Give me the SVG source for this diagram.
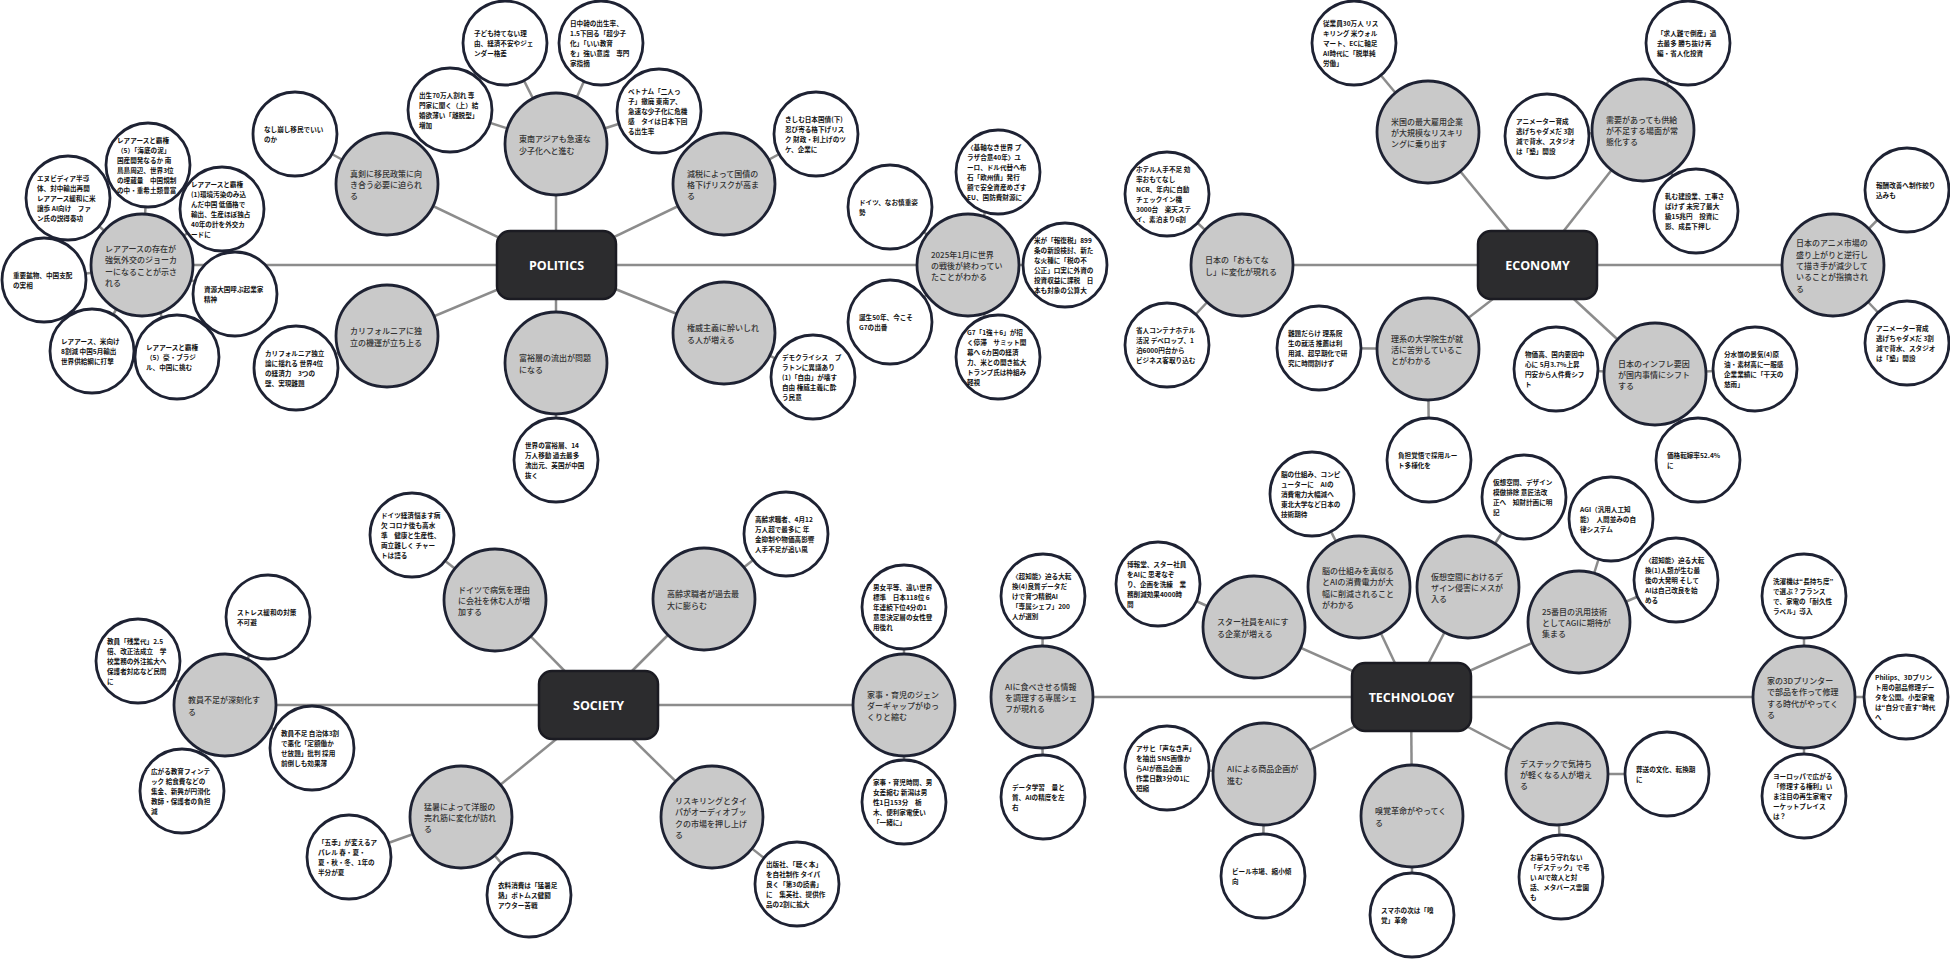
<svg xmlns="http://www.w3.org/2000/svg" width="1950" height="959" viewBox="0 0 1950 959">
<style>
.c line{stroke:#8c8c8c;stroke-width:2.5}
.mn{fill:#c9c9c9;stroke:#1e2233;stroke-width:2.8}
.lf{fill:#fff;stroke:#1e2233;stroke-width:2.8}
.hub{fill:#2c2c2e;stroke:#1b1b22;stroke-width:2.5}
.ht{font-family:"Open Sans","DejaVu Sans",sans-serif;font-weight:700;font-size:12.5px;fill:#fff;text-anchor:middle;dominant-baseline:central}
.mt{font-family:"Noto Sans CJK JP","Noto Sans",sans-serif;font-size:8px;font-weight:500;fill:#333;dominant-baseline:central}
.lt{font-family:"Noto Sans CJK JP","Noto Sans",sans-serif;font-size:6.6px;font-weight:700;fill:#111;dominant-baseline:central}
</style>
<rect width="1950" height="959" fill="#fff"/>
<g id="connectors" class="c">
<!-- POLITICS -->
<line x1="556" y1="265" x2="556" y2="144"/><line x1="556" y1="265" x2="387" y2="184"/><line x1="556" y1="265" x2="724" y2="184"/><line x1="556" y1="265" x2="142" y2="265"/><line x1="556" y1="265" x2="968" y2="265"/><line x1="556" y1="265" x2="387" y2="336"/><line x1="556" y1="265" x2="556" y2="363"/><line x1="556" y1="265" x2="724" y2="333"/>
<line x1="556" y1="144" x2="450" y2="110"/><line x1="556" y1="144" x2="505" y2="43"/><line x1="556" y1="144" x2="601" y2="43"/><line x1="556" y1="144" x2="659" y2="111"/>
<line x1="387" y1="184" x2="295" y2="134"/><line x1="724" y1="184" x2="816" y2="134"/>
<line x1="142" y1="265" x2="148" y2="165"/><line x1="142" y1="265" x2="68" y2="198"/><line x1="142" y1="265" x2="222" y2="209"/><line x1="142" y1="265" x2="44" y2="280"/><line x1="142" y1="265" x2="235" y2="294"/><line x1="142" y1="265" x2="92" y2="351"/><line x1="142" y1="265" x2="177" y2="357"/>
<line x1="968" y1="265" x2="998" y2="172"/><line x1="968" y1="265" x2="890" y2="207"/><line x1="968" y1="265" x2="1065" y2="265"/><line x1="968" y1="265" x2="890" y2="322"/><line x1="968" y1="265" x2="998" y2="357"/>
<line x1="387" y1="336" x2="296" y2="368"/><line x1="556" y1="363" x2="556" y2="460"/><line x1="724" y1="333" x2="813" y2="377"/>
<!-- ECONOMY -->
<line x1="1537" y1="265" x2="1242" y2="265"/><line x1="1537" y1="265" x2="1428" y2="132"/><line x1="1537" y1="265" x2="1643" y2="130"/><line x1="1537" y1="265" x2="1833" y2="265"/><line x1="1537" y1="265" x2="1428" y2="349"/><line x1="1537" y1="265" x2="1655" y2="374"/>
<line x1="1242" y1="265" x2="1167" y2="194"/><line x1="1242" y1="265" x2="1167" y2="345"/><line x1="1428" y1="132" x2="1354" y2="43"/>
<line x1="1643" y1="130" x2="1688" y2="43"/><line x1="1643" y1="130" x2="1547" y2="136"/><line x1="1643" y1="130" x2="1696" y2="211"/>
<line x1="1833" y1="265" x2="1907" y2="190"/><line x1="1833" y1="265" x2="1907" y2="343"/>
<line x1="1428" y1="349" x2="1319" y2="348"/><line x1="1428" y1="349" x2="1429" y2="460"/>
<line x1="1655" y1="374" x2="1556" y2="369"/><line x1="1655" y1="374" x2="1755" y2="369"/><line x1="1655" y1="374" x2="1698" y2="460"/>
<!-- SOCIETY -->
<line x1="598" y1="705" x2="225" y2="705"/><line x1="598" y1="705" x2="495" y2="600"/><line x1="598" y1="705" x2="704" y2="599"/><line x1="598" y1="705" x2="904" y2="705"/><line x1="598" y1="705" x2="461" y2="817"/><line x1="598" y1="705" x2="712" y2="817"/>
<line x1="225" y1="705" x2="268" y2="617"/><line x1="225" y1="705" x2="138" y2="661"/><line x1="225" y1="705" x2="312" y2="748"/><line x1="225" y1="705" x2="182" y2="791"/>
<line x1="495" y1="600" x2="412" y2="535"/><line x1="704" y1="599" x2="786" y2="534"/>
<line x1="904" y1="705" x2="904" y2="607"/><line x1="904" y1="705" x2="904" y2="802"/>
<line x1="461" y1="817" x2="349" y2="857"/><line x1="461" y1="817" x2="529" y2="895"/><line x1="712" y1="817" x2="797" y2="884"/>
<!-- TECHNOLOGY -->
<line x1="1411" y1="697" x2="1042" y2="697"/><line x1="1411" y1="697" x2="1254" y2="627"/><line x1="1411" y1="697" x2="1359" y2="587"/><line x1="1411" y1="697" x2="1468" y2="587"/><line x1="1411" y1="697" x2="1579" y2="622"/><line x1="1411" y1="697" x2="1804" y2="697"/><line x1="1411" y1="697" x2="1557" y2="774"/><line x1="1411" y1="697" x2="1412" y2="816"/><line x1="1411" y1="697" x2="1264" y2="774"/>
<line x1="1042" y1="697" x2="1043" y2="596"/><line x1="1042" y1="697" x2="1043" y2="797"/><line x1="1254" y1="627" x2="1158" y2="584"/><line x1="1359" y1="587" x2="1312" y2="494"/><line x1="1468" y1="587" x2="1524" y2="497"/>
<line x1="1579" y1="622" x2="1611" y2="519"/><line x1="1579" y1="622" x2="1676" y2="580"/>
<line x1="1804" y1="697" x2="1804" y2="596"/><line x1="1804" y1="697" x2="1906" y2="697"/><line x1="1804" y1="697" x2="1804" y2="796"/>
<line x1="1557" y1="774" x2="1667" y2="774"/><line x1="1557" y1="774" x2="1561" y2="877"/><line x1="1412" y1="816" x2="1412" y2="915"/>
<line x1="1264" y1="774" x2="1167" y2="768"/><line x1="1264" y1="774" x2="1263" y2="876"/>
</g>

<!-- HUBS -->
<g id="politics"><rect class="hub" x="497" y="231" width="119" height="68" rx="13"/><text class="ht" x="556.5" y="265">POLITICS</text></g>
<g id="economy"><rect class="hub" x="1478" y="231" width="119" height="68" rx="13"/><text class="ht" x="1537.5" y="265">ECONOMY</text></g>
<g id="society"><rect class="hub" x="539" y="671" width="119" height="68" rx="13"/><text class="ht" x="598.5" y="705">SOCIETY</text></g>
<g id="technology"><rect class="hub" x="1352" y="663" width="119" height="68" rx="13"/><text class="ht" x="1411.5" y="697">TECHNOLOGY</text></g>

<!-- POLITICS mains -->
<g id="p1"><circle class="mn" cx="556" cy="144" r="51"/><text class="mt"><tspan x="519" y="138.3">東南アジアも急速な</tspan><tspan x="519" y="149.7">少子化へと進む</tspan></text></g>
<g id="p2"><circle class="mn" cx="387" cy="184" r="51"/><text class="mt"><tspan x="350" y="172.6">真剣に移民政策に向</tspan><tspan x="350" y="184">き合う必要に迫られ</tspan><tspan x="350" y="195.4">る</tspan></text></g>
<g id="p3"><circle class="mn" cx="724" cy="184" r="51"/><text class="mt"><tspan x="687" y="172.6">減税によって国債の</tspan><tspan x="687" y="184">格下げリスクが高ま</tspan><tspan x="687" y="195.4">る</tspan></text></g>
<g id="p4"><circle class="mn" cx="142" cy="265" r="51"/><text class="mt"><tspan x="105" y="247.9">レアアースの存在が</tspan><tspan x="105" y="259.3">強気外交のジョーカ</tspan><tspan x="105" y="270.7">ーになることが示さ</tspan><tspan x="105" y="282.1">れる</tspan></text></g>
<g id="p5"><circle class="mn" cx="968" cy="265" r="51"/><text class="mt"><tspan x="931" y="253.6">2025年1月に世界</tspan><tspan x="931" y="265">の戦後が終わってい</tspan><tspan x="931" y="276.4">たことがわかる</tspan></text></g>
<g id="p6"><circle class="mn" cx="387" cy="336" r="51"/><text class="mt"><tspan x="350" y="330.3">カリフォルニアに独</tspan><tspan x="350" y="341.7">立の機運が立ち上る</tspan></text></g>
<g id="p7"><circle class="mn" cx="556" cy="363" r="51"/><text class="mt"><tspan x="519" y="357.3">富裕層の流出が問題</tspan><tspan x="519" y="368.7">になる</tspan></text></g>
<g id="p8"><circle class="mn" cx="724" cy="333" r="51"/><text class="mt"><tspan x="687" y="327.3">権威主義に酔いしれ</tspan><tspan x="687" y="338.7">る人が増える</tspan></text></g>

<!-- POLITICS leaves -->
<g id="p1a"><circle class="lf" cx="450" cy="110" r="42"/><text class="lt"><tspan x="419" y="95">出生70万人割れ 専</tspan><tspan x="419" y="105">門家に聞く（上）結</tspan><tspan x="419" y="115">婚欲薄い「離脱型」</tspan><tspan x="419" y="125">増加</tspan></text></g>
<g id="p1b"><circle class="lf" cx="505" cy="43" r="42"/><text class="lt"><tspan x="474" y="33">子ども持てない理</tspan><tspan x="474" y="43">由、経済不安やジェ</tspan><tspan x="474" y="53">ンダー格差</tspan></text></g>
<g id="p1c"><circle class="lf" cx="601" cy="43" r="42"/><text class="lt"><tspan x="570" y="23">日中韓の出生率、</tspan><tspan x="570" y="33">1.5下回る「超少子</tspan><tspan x="570" y="43">化」「いい教育</tspan><tspan x="570" y="53">を」強い意識　専門</tspan><tspan x="570" y="63">家指摘</tspan></text></g>
<g id="p1d"><circle class="lf" cx="659" cy="111" r="42"/><text class="lt"><tspan x="628" y="91">ベトナム「二人っ</tspan><tspan x="628" y="101">子」撤廃 東南ア、</tspan><tspan x="628" y="111">急速な少子化に危機</tspan><tspan x="628" y="121">感　タイは日本下回</tspan><tspan x="628" y="131">る出生率</tspan></text></g>
<g id="p2a"><circle class="lf" cx="295" cy="134" r="42"/><text class="lt"><tspan x="264" y="129">なし崩し移民でいい</tspan><tspan x="264" y="139">のか</tspan></text></g>
<g id="p3a"><circle class="lf" cx="816" cy="134" r="42"/><text class="lt"><tspan x="785" y="119">きしむ日本国債(下)</tspan><tspan x="785" y="129">忍び寄る格下げリス</tspan><tspan x="785" y="139">ク 財政・利上げのツ</tspan><tspan x="785" y="149">ケ、企業に</tspan></text></g>
<g id="p4a"><circle class="lf" cx="148" cy="165" r="42"/><text class="lt"><tspan x="117" y="140">レアアースと覇権</tspan><tspan x="117" y="150">（5）「海底の泥」</tspan><tspan x="117" y="160">国産開発なるか 南</tspan><tspan x="117" y="170">鳥島周辺、世界3位</tspan><tspan x="117" y="180">の埋蔵量　中国規制</tspan><tspan x="117" y="190">の中・重希土類豊富</tspan></text></g>
<g id="p4b"><circle class="lf" cx="68" cy="198" r="42"/><text class="lt"><tspan x="37" y="178">エヌビディア半導</tspan><tspan x="37" y="188">体、対中輸出再開</tspan><tspan x="37" y="198">レアアース緩和に米</tspan><tspan x="37" y="208">譲歩 AI向け　ファ</tspan><tspan x="37" y="218">ン氏の説得奏功</tspan></text></g>
<g id="p4c"><circle class="lf" cx="222" cy="209" r="42"/><text class="lt"><tspan x="191" y="184">レアアースと覇権</tspan><tspan x="191" y="194">(1)環境汚染のみ込</tspan><tspan x="191" y="204">んだ中国 低価格で</tspan><tspan x="191" y="214">輸出、生産ほぼ独占</tspan><tspan x="191" y="224">40年の計を外交カ</tspan><tspan x="191" y="234">ードに</tspan></text></g>
<g id="p4d"><circle class="lf" cx="44" cy="280" r="42"/><text class="lt"><tspan x="13" y="275">重要鉱物、中国支配</tspan><tspan x="13" y="285">の実相</tspan></text></g>
<g id="p4e"><circle class="lf" cx="235" cy="294" r="42"/><text class="lt"><tspan x="204" y="289">資源大国呼ぶ起業家</tspan><tspan x="204" y="299">精神</tspan></text></g>
<g id="p4f"><circle class="lf" cx="92" cy="351" r="42"/><text class="lt"><tspan x="61" y="341">レアアース、米向け</tspan><tspan x="61" y="351">8割減 中国5月輸出</tspan><tspan x="61" y="361">世界供給網に打撃</tspan></text></g>
<g id="p4g"><circle class="lf" cx="177" cy="357" r="42"/><text class="lt"><tspan x="146" y="347">レアアースと覇権</tspan><tspan x="146" y="357">（5）豪・ブラジ</tspan><tspan x="146" y="367">ル、中国に挑む</tspan></text></g>
<g id="p5a"><circle class="lf" cx="998" cy="172" r="42"/><text class="lt"><tspan x="967" y="147">〈基軸なき世界 プ</tspan><tspan x="967" y="157">ラザ合意40年〉ユ</tspan><tspan x="967" y="167">ーロ、ドル代替へ布</tspan><tspan x="967" y="177">石「欧州債」発行</tspan><tspan x="967" y="187">額で安全資産めざす</tspan><tspan x="967" y="197">EU、国防費財源に</tspan></text></g>
<g id="p5b"><circle class="lf" cx="890" cy="207" r="42"/><text class="lt"><tspan x="859" y="202">ドイツ、なお慎重姿</tspan><tspan x="859" y="212">勢</tspan></text></g>
<g id="p5c"><circle class="lf" cx="1065" cy="265" r="42"/><text class="lt"><tspan x="1034" y="240">米が「報復税」899</tspan><tspan x="1034" y="250">条の新設検討、新た</tspan><tspan x="1034" y="260">な火種に「税の不</tspan><tspan x="1034" y="270">公正」口実に外資の</tspan><tspan x="1034" y="280">投資収益に課税　日</tspan><tspan x="1034" y="290">本も対象の公算大</tspan></text></g>
<g id="p5d"><circle class="lf" cx="890" cy="322" r="42"/><text class="lt"><tspan x="859" y="317">誕生50年、今こそ</tspan><tspan x="859" y="327">G7の出番</tspan></text></g>
<g id="p5e"><circle class="lf" cx="998" cy="357" r="42"/><text class="lt"><tspan x="967" y="332">G7「1強＋6」が招</tspan><tspan x="967" y="342">く停滞　サミット開</tspan><tspan x="967" y="352">幕へ 6カ国の経済</tspan><tspan x="967" y="362">力、米との開き拡大</tspan><tspan x="967" y="372">トランプ氏は枠組み</tspan><tspan x="967" y="382">軽視</tspan></text></g>
<g id="p6a"><circle class="lf" cx="296" cy="368" r="42"/><text class="lt"><tspan x="265" y="353">カリフォルニア独立</tspan><tspan x="265" y="363">論に揺れる 世界4位</tspan><tspan x="265" y="373">の経済力　3つの</tspan><tspan x="265" y="383">壁、実現難題</tspan></text></g>
<g id="p7a"><circle class="lf" cx="556" cy="460" r="42"/><text class="lt"><tspan x="525" y="445">世界の富裕層、14</tspan><tspan x="525" y="455">万人移動 過去最多</tspan><tspan x="525" y="465">流出元、英国が中国</tspan><tspan x="525" y="475">抜く</tspan></text></g>
<g id="p8a"><circle class="lf" cx="813" cy="377" r="42"/><text class="lt"><tspan x="782" y="357">デモクライシス　プ</tspan><tspan x="782" y="367">ラトンに異議あり</tspan><tspan x="782" y="377">(1)「自由」が壊す</tspan><tspan x="782" y="387">自由 権威主義に酔</tspan><tspan x="782" y="397">う民意</tspan></text></g>

<!-- ECONOMY mains -->
<g id="e1"><circle class="mn" cx="1242" cy="265" r="51"/><text class="mt"><tspan x="1205" y="259.3">日本の「おもてな</tspan><tspan x="1205" y="270.7">し」に変化が現れる</tspan></text></g>
<g id="e2"><circle class="mn" cx="1428" cy="132" r="51"/><text class="mt"><tspan x="1391" y="120.6">米国の最大雇用企業</tspan><tspan x="1391" y="132">が大規模なリスキリ</tspan><tspan x="1391" y="143.4">ングに乗り出す</tspan></text></g>
<g id="e3"><circle class="mn" cx="1643" cy="130" r="51"/><text class="mt"><tspan x="1606" y="118.6">需要があっても供給</tspan><tspan x="1606" y="130">が不足する場面が常</tspan><tspan x="1606" y="141.4">態化する</tspan></text></g>
<g id="e4"><circle class="mn" cx="1833" cy="265" r="51"/><text class="mt"><tspan x="1796" y="242.2">日本のアニメ市場の</tspan><tspan x="1796" y="253.6">盛り上がりと逆行し</tspan><tspan x="1796" y="265">て描き手が減少して</tspan><tspan x="1796" y="276.4">いることが指摘され</tspan><tspan x="1796" y="287.8">る</tspan></text></g>
<g id="e5"><circle class="mn" cx="1428" cy="349" r="51"/><text class="mt"><tspan x="1391" y="337.6">理系の大学院生が就</tspan><tspan x="1391" y="349">活に苦労しているこ</tspan><tspan x="1391" y="360.4">とがわかる</tspan></text></g>
<g id="e6"><circle class="mn" cx="1655" cy="374" r="51"/><text class="mt"><tspan x="1618" y="362.6">日本のインフレ要因</tspan><tspan x="1618" y="374">が国内事情にシフト</tspan><tspan x="1618" y="385.4">する</tspan></text></g>

<!-- ECONOMY leaves -->
<g id="e1a"><circle class="lf" cx="1167" cy="194" r="42"/><text class="lt"><tspan x="1136" y="169">ホテル人手不足 効</tspan><tspan x="1136" y="179">率おもてなし</tspan><tspan x="1136" y="189">NCR、年内に自動</tspan><tspan x="1136" y="199">チェックイン機</tspan><tspan x="1136" y="209">3000台　楽天ステ</tspan><tspan x="1136" y="219">イ、素泊まり6割</tspan></text></g>
<g id="e1b"><circle class="lf" cx="1167" cy="345" r="42"/><text class="lt"><tspan x="1136" y="330">省人コンテナホテル</tspan><tspan x="1136" y="340">活況 デベロップ、1</tspan><tspan x="1136" y="350">泊6000円台から</tspan><tspan x="1136" y="360">ビジネス客取り込む</tspan></text></g>
<g id="e2a"><circle class="lf" cx="1354" cy="43" r="42"/><text class="lt"><tspan x="1323" y="23">従業員30万人 リス</tspan><tspan x="1323" y="33">キリング 米ウォル</tspan><tspan x="1323" y="43">マート、ECに軸足</tspan><tspan x="1323" y="53">AI時代に「脱単純</tspan><tspan x="1323" y="63">労働」</tspan></text></g>
<g id="e3a"><circle class="lf" cx="1688" cy="43" r="42"/><text class="lt"><tspan x="1657" y="33">「求人難で倒産」過</tspan><tspan x="1657" y="43">去最多 勝ち抜け再</tspan><tspan x="1657" y="53">編・省人化投資</tspan></text></g>
<g id="e3b"><circle class="lf" cx="1547" cy="136" r="42"/><text class="lt"><tspan x="1516" y="121">アニメーター育成</tspan><tspan x="1516" y="131">逃げちゃダメだ 3割</tspan><tspan x="1516" y="141">減で背水、スタジオ</tspan><tspan x="1516" y="151">は「塾」開設</tspan></text></g>
<g id="e3c"><circle class="lf" cx="1696" cy="211" r="42"/><text class="lt"><tspan x="1665" y="196">軋む建設業、工事さ</tspan><tspan x="1665" y="206">ばけず 未完了最大</tspan><tspan x="1665" y="216">級15兆円　投資に</tspan><tspan x="1665" y="226">影、成長下押し</tspan></text></g>
<g id="e4a"><circle class="lf" cx="1907" cy="190" r="42"/><text class="lt"><tspan x="1876" y="185">報酬改善へ制作絞り</tspan><tspan x="1876" y="195">込みも</tspan></text></g>
<g id="e4b"><circle class="lf" cx="1907" cy="343" r="42"/><text class="lt"><tspan x="1876" y="328">アニメーター育成</tspan><tspan x="1876" y="338">逃げちゃダメだ 3割</tspan><tspan x="1876" y="348">減で背水、スタジオ</tspan><tspan x="1876" y="358">は「塾」開設</tspan></text></g>
<g id="e5a"><circle class="lf" cx="1319" cy="348" r="42"/><text class="lt"><tspan x="1288" y="333">難題だらけ 理系院</tspan><tspan x="1288" y="343">生の就活 推薦は利</tspan><tspan x="1288" y="353">用減、超早期化で研</tspan><tspan x="1288" y="363">究に時間割けず</tspan></text></g>
<g id="e5b"><circle class="lf" cx="1429" cy="460" r="42"/><text class="lt"><tspan x="1398" y="455">負担覚悟で採用ルー</tspan><tspan x="1398" y="465">ト多様化を</tspan></text></g>
<g id="e6a"><circle class="lf" cx="1556" cy="369" r="42"/><text class="lt"><tspan x="1525" y="354">物価高、国内要因中</tspan><tspan x="1525" y="364">心に 5月3.7%上昇</tspan><tspan x="1525" y="374">円安から人件費シフ</tspan><tspan x="1525" y="384">ト</tspan></text></g>
<g id="e6b"><circle class="lf" cx="1755" cy="369" r="42"/><text class="lt"><tspan x="1724" y="354">分水嶺の景気(4)原</tspan><tspan x="1724" y="364">油・素材高に一服感</tspan><tspan x="1724" y="374">企業業績に「干天の</tspan><tspan x="1724" y="384">慈雨」</tspan></text></g>
<g id="e6c"><circle class="lf" cx="1698" cy="460" r="42"/><text class="lt"><tspan x="1667" y="455">価格転嫁率52.4%</tspan><tspan x="1667" y="465">に</tspan></text></g>

<!-- SOCIETY mains -->
<g id="s1"><circle class="mn" cx="225" cy="705" r="51"/><text class="mt"><tspan x="188" y="699.3">教員不足が深刻化す</tspan><tspan x="188" y="710.7">る</tspan></text></g>
<g id="s2"><circle class="mn" cx="495" cy="600" r="51"/><text class="mt"><tspan x="458" y="588.6">ドイツで病気を理由</tspan><tspan x="458" y="600">に会社を休む人が増</tspan><tspan x="458" y="611.4">加する</tspan></text></g>
<g id="s3"><circle class="mn" cx="704" cy="599" r="51"/><text class="mt"><tspan x="667" y="593.3">高齢求職者が過去最</tspan><tspan x="667" y="604.7">大に膨らむ</tspan></text></g>
<g id="s4"><circle class="mn" cx="904" cy="705" r="51"/><text class="mt"><tspan x="867" y="693.6">家事・育児のジェン</tspan><tspan x="867" y="705">ダーギャップがゆっ</tspan><tspan x="867" y="716.4">くりと縮む</tspan></text></g>
<g id="s5"><circle class="mn" cx="461" cy="817" r="51"/><text class="mt"><tspan x="424" y="805.6">猛暑によって洋服の</tspan><tspan x="424" y="817">売れ筋に変化が訪れ</tspan><tspan x="424" y="828.4">る</tspan></text></g>
<g id="s6"><circle class="mn" cx="712" cy="817" r="51"/><text class="mt"><tspan x="675" y="799.9">リスキリングとタイ</tspan><tspan x="675" y="811.3">パがオーディオブッ</tspan><tspan x="675" y="822.7">クの市場を押し上げ</tspan><tspan x="675" y="834.1">る</tspan></text></g>

<!-- SOCIETY leaves -->
<g id="s1a"><circle class="lf" cx="268" cy="617" r="42"/><text class="lt"><tspan x="237" y="612">ストレス緩和の対策</tspan><tspan x="237" y="622">不可避</tspan></text></g>
<g id="s1b"><circle class="lf" cx="138" cy="661" r="42"/><text class="lt"><tspan x="107" y="641">教員「残業代」2.5</tspan><tspan x="107" y="651">倍、改正法成立　学</tspan><tspan x="107" y="661">校業務の外注拡大へ</tspan><tspan x="107" y="671">保護者対応など民間</tspan><tspan x="107" y="681">に</tspan></text></g>
<g id="s1c"><circle class="lf" cx="312" cy="748" r="42"/><text class="lt"><tspan x="281" y="733">教員不足 自治体3割</tspan><tspan x="281" y="743">で悪化「定額働か</tspan><tspan x="281" y="753">せ放題」批判 採用</tspan><tspan x="281" y="763">前倒しも効果薄</tspan></text></g>
<g id="s1d"><circle class="lf" cx="182" cy="791" r="42"/><text class="lt"><tspan x="151" y="771">広がる教育フィンテ</tspan><tspan x="151" y="781">ック 給食費などの</tspan><tspan x="151" y="791">集金、新興が円滑化</tspan><tspan x="151" y="801">教師・保護者の負担</tspan><tspan x="151" y="811">減</tspan></text></g>
<g id="s2a"><circle class="lf" cx="412" cy="535" r="42"/><text class="lt"><tspan x="381" y="515">ドイツ経済悩ます病</tspan><tspan x="381" y="525">欠 コロナ後も高水</tspan><tspan x="381" y="535">準　健康と生産性、</tspan><tspan x="381" y="545">両立難しく チャー</tspan><tspan x="381" y="555">トは語る</tspan></text></g>
<g id="s3a"><circle class="lf" cx="786" cy="534" r="42"/><text class="lt"><tspan x="755" y="519">高齢求職者、4月12</tspan><tspan x="755" y="529">万人超で最多に 年</tspan><tspan x="755" y="539">金抑制や物価高影響</tspan><tspan x="755" y="549">人手不足が追い風</tspan></text></g>
<g id="s4a"><circle class="lf" cx="904" cy="607" r="42"/><text class="lt"><tspan x="873" y="587">男女平等、遠い世界</tspan><tspan x="873" y="597">標準　日本118位 6</tspan><tspan x="873" y="607">年連続下位4分の1</tspan><tspan x="873" y="617">意思決定層の女性登</tspan><tspan x="873" y="627">用後れ</tspan></text></g>
<g id="s4b"><circle class="lf" cx="904" cy="802" r="42"/><text class="lt"><tspan x="873" y="782">家事・育児時間、男</tspan><tspan x="873" y="792">女差縮む 新潟は男</tspan><tspan x="873" y="802">性1日153分　栃</tspan><tspan x="873" y="812">木、便利家電使い</tspan><tspan x="873" y="822">「一緒に」</tspan></text></g>
<g id="s5a"><circle class="lf" cx="349" cy="857" r="42"/><text class="lt"><tspan x="318" y="842">「五季」が変えるア</tspan><tspan x="318" y="852">パレル 春・夏・</tspan><tspan x="318" y="862">夏・秋・冬、1年の</tspan><tspan x="318" y="872">半分が夏</tspan></text></g>
<g id="s5b"><circle class="lf" cx="529" cy="895" r="42"/><text class="lt"><tspan x="498" y="885">衣料消費は「猛暑足</tspan><tspan x="498" y="895">熱」ボトムス健闘</tspan><tspan x="498" y="905">アウター苦戦</tspan></text></g>
<g id="s6a"><circle class="lf" cx="797" cy="884" r="42"/><text class="lt"><tspan x="766" y="864">出版社、「聴く本」</tspan><tspan x="766" y="874">を自社制作 タイパ</tspan><tspan x="766" y="884">良く「第3の読書」</tspan><tspan x="766" y="894">に　集英社、提供作</tspan><tspan x="766" y="904">品の2割に拡大</tspan></text></g>

<!-- TECHNOLOGY mains -->
<g id="t1"><circle class="mn" cx="1042" cy="697" r="51"/><text class="mt"><tspan x="1005" y="685.6">AIに食べさせる情報</tspan><tspan x="1005" y="697">を調理する専属シェ</tspan><tspan x="1005" y="708.4">フが現れる</tspan></text></g>
<g id="t2"><circle class="mn" cx="1254" cy="627" r="51"/><text class="mt"><tspan x="1217" y="621.3">スター社員をAIにす</tspan><tspan x="1217" y="632.7">る企業が増える</tspan></text></g>
<g id="t3"><circle class="mn" cx="1359" cy="587" r="51"/><text class="mt"><tspan x="1322" y="569.9">脳の仕組みを真似る</tspan><tspan x="1322" y="581.3">とAIの消費電力が大</tspan><tspan x="1322" y="592.7">幅に削減されること</tspan><tspan x="1322" y="604.1">がわかる</tspan></text></g>
<g id="t4"><circle class="mn" cx="1468" cy="587" r="51"/><text class="mt"><tspan x="1431" y="575.6">仮想空間におけるデ</tspan><tspan x="1431" y="587">ザイン侵害にメスが</tspan><tspan x="1431" y="598.4">入る</tspan></text></g>
<g id="t5"><circle class="mn" cx="1579" cy="622" r="51"/><text class="mt"><tspan x="1542" y="610.6">25番目の汎用技術</tspan><tspan x="1542" y="622">としてAGIに期待が</tspan><tspan x="1542" y="633.4">集まる</tspan></text></g>
<g id="t6"><circle class="mn" cx="1804" cy="697" r="51"/><text class="mt"><tspan x="1767" y="679.9">家の3Dプリンター</tspan><tspan x="1767" y="691.3">で部品を作って修理</tspan><tspan x="1767" y="702.7">する時代がやってく</tspan><tspan x="1767" y="714.1">る</tspan></text></g>
<g id="t7"><circle class="mn" cx="1557" cy="774" r="51"/><text class="mt"><tspan x="1520" y="762.6">デステックで気持ち</tspan><tspan x="1520" y="774">が軽くなる人が増え</tspan><tspan x="1520" y="785.4">る</tspan></text></g>
<g id="t8"><circle class="mn" cx="1412" cy="816" r="51"/><text class="mt"><tspan x="1375" y="810.3">嗅覚革命がやってく</tspan><tspan x="1375" y="821.7">る</tspan></text></g>
<g id="t9"><circle class="mn" cx="1264" cy="774" r="51"/><text class="mt"><tspan x="1227" y="768.3">AIによる商品企画が</tspan><tspan x="1227" y="779.7">進む</tspan></text></g>

<!-- TECHNOLOGY leaves -->
<g id="t1a"><circle class="lf" cx="1043" cy="596" r="42"/><text class="lt"><tspan x="1012" y="576">〈超知能〉迫る大転</tspan><tspan x="1012" y="586">換(4)良質データだ</tspan><tspan x="1012" y="596">けで育つ精鋭AI</tspan><tspan x="1012" y="606">「専属シェフ」200</tspan><tspan x="1012" y="616">人が選別</tspan></text></g>
<g id="t1b"><circle class="lf" cx="1043" cy="797" r="42"/><text class="lt"><tspan x="1012" y="787">データ学習　量と</tspan><tspan x="1012" y="797">質、AIの精度を左</tspan><tspan x="1012" y="807">右</tspan></text></g>
<g id="t2a"><circle class="lf" cx="1158" cy="584" r="42"/><text class="lt"><tspan x="1127" y="564">博報堂、スター社員</tspan><tspan x="1127" y="574">をAIに 思考なぞ</tspan><tspan x="1127" y="584">り、企画を洗練　業</tspan><tspan x="1127" y="594">務削減効果4000時</tspan><tspan x="1127" y="604">間</tspan></text></g>
<g id="t3a"><circle class="lf" cx="1312" cy="494" r="42"/><text class="lt"><tspan x="1281" y="474">脳の仕組み、コンピ</tspan><tspan x="1281" y="484">ューターに　AIの</tspan><tspan x="1281" y="494">消費電力大幅減へ</tspan><tspan x="1281" y="504">東北大学など日本の</tspan><tspan x="1281" y="514">技術期待</tspan></text></g>
<g id="t4a"><circle class="lf" cx="1524" cy="497" r="42"/><text class="lt"><tspan x="1493" y="482">仮想空間、デザイン</tspan><tspan x="1493" y="492">模倣排除 意匠法改</tspan><tspan x="1493" y="502">正へ　知財計画に明</tspan><tspan x="1493" y="512">記</tspan></text></g>
<g id="t5a"><circle class="lf" cx="1611" cy="519" r="42"/><text class="lt"><tspan x="1580" y="509">AGI（汎用人工知</tspan><tspan x="1580" y="519">能）　人間並みの自</tspan><tspan x="1580" y="529">律システム</tspan></text></g>
<g id="t5b"><circle class="lf" cx="1676" cy="580" r="42"/><text class="lt"><tspan x="1645" y="560">〈超知能〉迫る大転</tspan><tspan x="1645" y="570">換(1)人類が生む最</tspan><tspan x="1645" y="580">後の大発明 そして</tspan><tspan x="1645" y="590">AIは自己改良を始</tspan><tspan x="1645" y="600">める</tspan></text></g>
<g id="t6a"><circle class="lf" cx="1804" cy="596" r="42"/><text class="lt"><tspan x="1773" y="581">洗濯機は“長持ち度”</tspan><tspan x="1773" y="591">で選ぶ？フランス</tspan><tspan x="1773" y="601">で、家電の「耐久性</tspan><tspan x="1773" y="611">ラベル」導入</tspan></text></g>
<g id="t6b"><circle class="lf" cx="1906" cy="697" r="42"/><text class="lt"><tspan x="1875" y="677">Philips、3Dプリン</tspan><tspan x="1875" y="687">ト用の部品修理デー</tspan><tspan x="1875" y="697">タを公開。小型家電</tspan><tspan x="1875" y="707">は“自分で直す”時代</tspan><tspan x="1875" y="717">へ</tspan></text></g>
<g id="t6c"><circle class="lf" cx="1804" cy="796" r="42"/><text class="lt"><tspan x="1773" y="776">ヨーロッパで広がる</tspan><tspan x="1773" y="786">「修理する権利」い</tspan><tspan x="1773" y="796">ま注目の再生家電マ</tspan><tspan x="1773" y="806">ーケットプレイス</tspan><tspan x="1773" y="816">は？</tspan></text></g>
<g id="t7a"><circle class="lf" cx="1667" cy="774" r="42"/><text class="lt"><tspan x="1636" y="769">葬送の文化、転換期</tspan><tspan x="1636" y="779">に</tspan></text></g>
<g id="t7b"><circle class="lf" cx="1561" cy="877" r="42"/><text class="lt"><tspan x="1530" y="857">お墓もう守れない</tspan><tspan x="1530" y="867">「デステック」で弔</tspan><tspan x="1530" y="877">い AIで故人と対</tspan><tspan x="1530" y="887">話、メタバース霊園</tspan><tspan x="1530" y="897">も</tspan></text></g>
<g id="t8a"><circle class="lf" cx="1412" cy="915" r="42"/><text class="lt"><tspan x="1381" y="910">スマホの次は「嗅</tspan><tspan x="1381" y="920">覚」革命</tspan></text></g>
<g id="t9a"><circle class="lf" cx="1167" cy="768" r="42"/><text class="lt"><tspan x="1136" y="748">アサヒ「声なき声」</tspan><tspan x="1136" y="758">を抽出 SNS画像か</tspan><tspan x="1136" y="768">らAIが商品企画</tspan><tspan x="1136" y="778">作業日数3分の1に</tspan><tspan x="1136" y="788">短縮</tspan></text></g>
<g id="t9b"><circle class="lf" cx="1263" cy="876" r="42"/><text class="lt"><tspan x="1232" y="871">ビール市場、縮小傾</tspan><tspan x="1232" y="881">向</tspan></text></g>
</svg>
